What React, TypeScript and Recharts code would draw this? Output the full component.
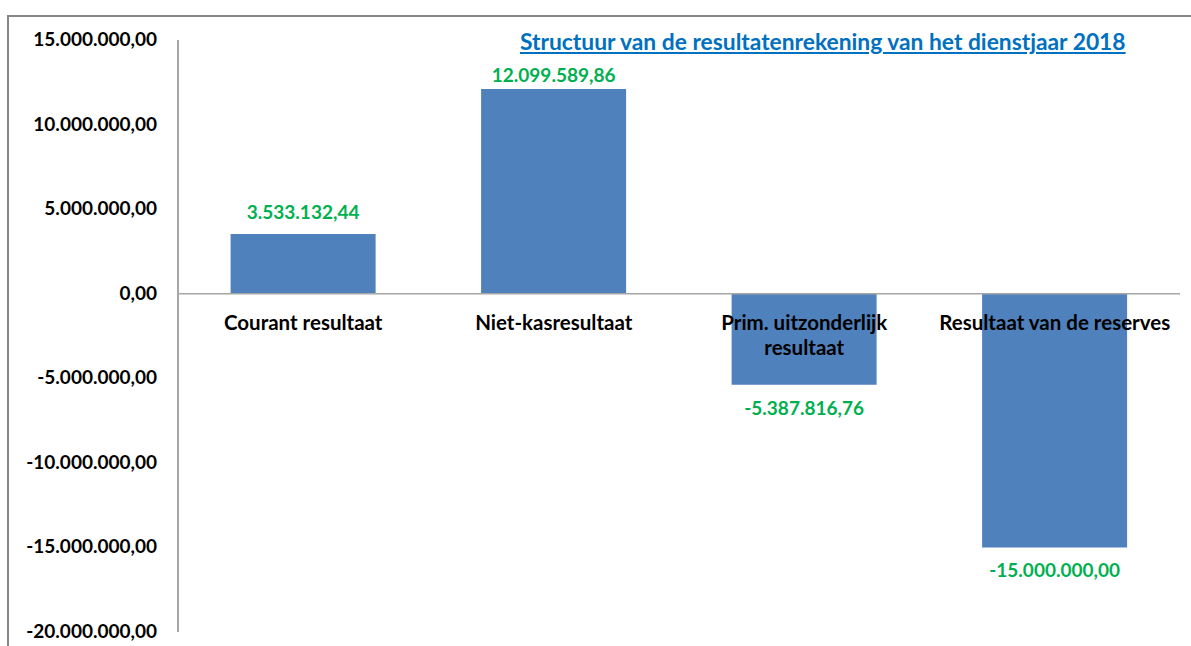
import { BarChart, Bar, XAxis, YAxis, ReferenceLine, LabelList } from 'recharts';

const categories = ['Courant resultaat', 'Niet-kasresultaat', 'Prim. uitzonderlijk resultaat', 'Resultaat van de reserves'];
// how each category label is broken over lines, as in the picture
const categoryLines = [['Courant resultaat'], ['Niet-kasresultaat'], ['Prim. uitzonderlijk', 'resultaat'], ['Resultaat van de reserves']];
const values = [3533132.44, 12099589.86, -5387816.76, -15000000];
const yTicks = [15000000, 10000000, 5000000, 0, -5000000, -10000000, -15000000, -20000000];

const W = 1191;
const H = 646;
const FONT = 'Lato, "Open Sans", sans-serif';
const margin = { top: 40, right: 11, bottom: 13, left: 18 };
const Y_AXIS_W = 160;
const yMin = -20000000;
const yMax = 15000000;

const fmt = (v: number) =>
  v.toLocaleString('nl-BE', { minimumFractionDigits: 2, maximumFractionDigits: 2 });

const data = categories.map((name, i) => ({ name, value: values[i] }));

// pixel y of the zero line, for placing category labels next to it
const plotH = H - margin.top - margin.bottom - 1;
const zeroY = margin.top + (plotH * yMax) / (yMax - yMin);

function YTick(props: any) {
  const { x, y, payload } = props;
  return (
    <text x={x - 13} y={y} dy={6} textAnchor="end" fontFamily={FONT} fontSize={19} fontWeight={700} fill="#000">
      {fmt(payload.value)}
    </text>
  );
}

function XTick(props: any) {
  const { x, index } = props;
  const lines = categoryLines[index] || [];
  return (
    <g>
      {lines.map((l, i) => (
        <text key={i} x={x} y={zeroY + 36 + i * 25} textAnchor="middle" fontFamily={FONT} fontSize={20.5} fontWeight={700} fill="#000">
          {l}
        </text>
      ))}
    </g>
  );
}

function ValueLabel(props: any) {
  const { x, y, width, height, value } = props;
  const top = Math.min(y, y + height);
  const bottom = Math.max(y, y + height);
  // labels above positive bars are kept below the top of the plot, as Excel does
  const ty = value >= 0 ? Math.max(top - 15, margin.top + 42) : bottom + 30;
  return (
    <text x={x + width / 2} y={ty} textAnchor="middle" fontFamily={FONT} fontSize={19} fontWeight={700} fill="#00B050">
      {fmt(value)}
    </text>
  );
}

export default function App() {
  return (
    <div style={{ position: 'absolute', left: 0, top: 0, width: W, height: H, background: '#fff', overflow: 'hidden' }}>
      <div style={{ position: 'absolute', left: 7, top: 15, width: W, height: H, borderLeft: '2px solid #868686', borderTop: '2px solid #868686' }} />
      <div
        style={{
          position: 'absolute',
          left: 520,
          top: 27,
          fontFamily: FONT,
          fontSize: 22.8,
          fontWeight: 700,
          color: '#0070C0',
          textDecoration: 'underline',
          whiteSpace: 'nowrap',
        }}
      >
        Structuur van de resultatenrekening van het dienstjaar 2018
      </div>
      <div style={{ position: 'absolute', left: 0, top: 0 }}>
        <BarChart width={W} height={H} data={data} margin={margin} barCategoryGap="21%">
          <XAxis dataKey="name" axisLine={false} tickLine={false} tick={<XTick />} interval={0} height={1} />
          <YAxis
            width={Y_AXIS_W}
            domain={[yMin, yMax]}
            ticks={yTicks}
            interval={0}
            tick={<YTick />}
            tickLine={false}
            axisLine={{ stroke: '#A6A6A6', strokeWidth: 2 }}
          />
          <ReferenceLine y={0} stroke="#A6A6A6" strokeWidth={1.5} />
          <Bar dataKey="value" fill="#4F81BD" isAnimationActive={false}>
            <LabelList dataKey="value" content={<ValueLabel />} />
          </Bar>
        </BarChart>
      </div>
    </div>
  );
}
